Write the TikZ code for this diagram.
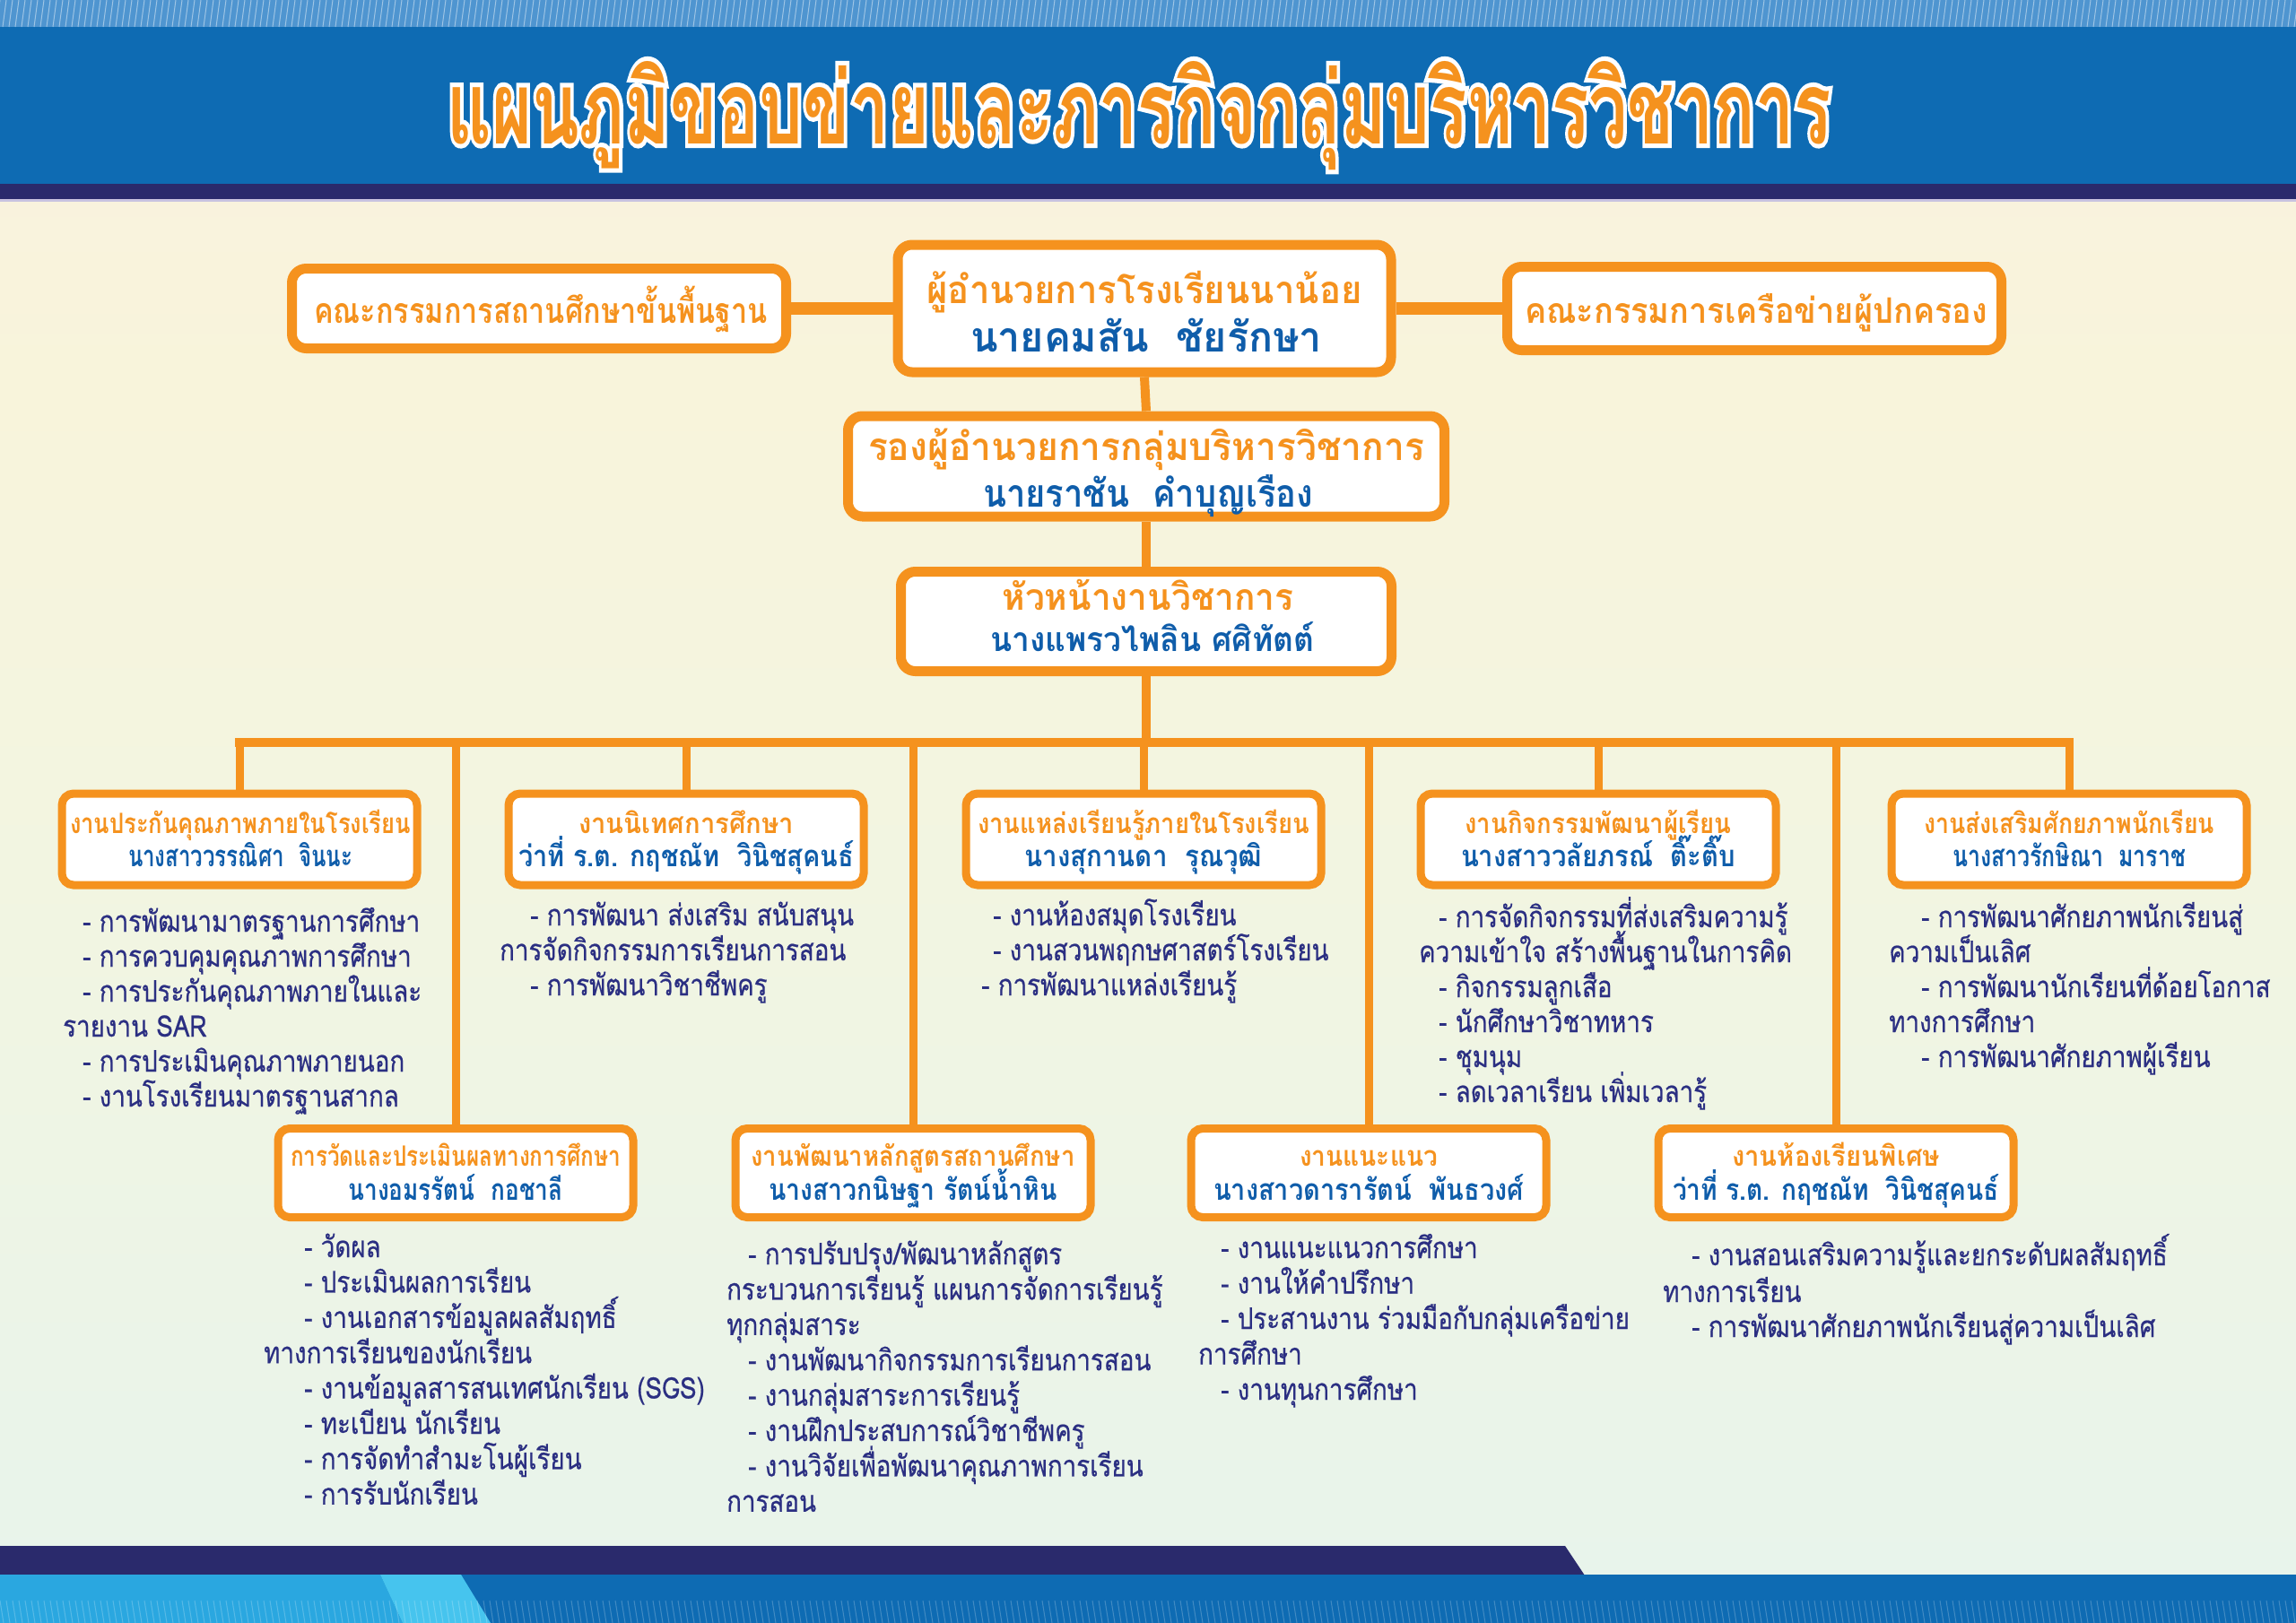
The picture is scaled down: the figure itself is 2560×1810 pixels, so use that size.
\documentclass[tikz,border=0pt]{standalone}
\usepackage{fontspec}
\usepackage{graphicx}
\newfontfamily\thaiR[Script=Thai]{Loma}
\newfontfamily\thaiL[Script=Thai,FakeBold=0.6]{Loma}
\newfontfamily\thaiO[Script=Thai,FakeBold=9]{Loma}
\definecolor{org}{HTML}{F5921E}
\definecolor{nameblue}{HTML}{0F5DAA}
\definecolor{navy}{HTML}{2B2F82}
\definecolor{band}{HTML}{0E6BB3}
\definecolor{bandL}{HTML}{4F95D0}
\definecolor{darkband}{HTML}{2A2A6C}
\definecolor{lilac}{HTML}{C9C3E0}
\definecolor{cyanA}{HTML}{2AA7E0}
\definecolor{cyanB}{HTML}{46C4EE}
\definecolor{bgA}{HTML}{FCEEE3}
\definecolor{bgB}{HTML}{FBF0E0}
\definecolor{bgC}{HTML}{F8F4DB}
\definecolor{bgD}{HTML}{F1F5E2}
\definecolor{bgE}{HTML}{E9F4EA}
\definecolor{bgF}{HTML}{E1F0F3}
\pgfdeclareverticalshading{bgsh}{100bp}{color(0bp)=(bgF); color(28bp)=(bgE); color(48bp)=(bgD); color(68bp)=(bgC); color(85bp)=(bgB); color(100bp)=(bgA)}
\def\fB{\thaiR\bfseries\fontsize{20}{24}\selectfont}
\def\fO{\thaiO\bfseries\fontsize{20}{24}\selectfont}
\def\fR{\thaiL\fontsize{20}{24}\selectfont}
\newsavebox\tbA
\newsavebox\tbB
\newlength\tlH
\newlength\tlW
% scale a text line to a given width and a given body height (height of the letter NO NU)
\newcommand\tline[4]{\sbox\tbA{#1น}\sbox\tbB{#1#4}\setlength\tlH{\ht\tbA}\setlength\tlW{\wd\tbB}\pgfmathsetmacro\tsx{#2/\tlW}\pgfmathsetmacro\tsy{#3/\tlH}\scalebox{\tsx}[\tsy]{\usebox\tbB}}
% list line: one common scale, calibrated on a reference line
\newcommand\LiT[1]{\sbox\tbA{\fR น}\sbox\tbB{\fR - การพัฒนามาตรฐานการศึกษา}\setlength\tlH{\ht\tbA}\setlength\tlW{\wd\tbB}\pgfmathsetmacro\lsx{376/\tlW}\pgfmathsetmacro\lsy{18.5/\tlH}\scalebox{\lsx}[\lsy]{\fR #1}}
\tikzset{
  obox/.style={draw=org, line width=9pt, rounded corners=13pt, fill=white, inner sep=0pt, minimum width=396pt, minimum height=102pt},
  tbox/.style={obox, line width=11pt, rounded corners=16pt},
  ttxt/.style={inner sep=0pt, anchor=base, text=org},
  ntxt/.style={inner sep=0pt, anchor=base, text=nameblue},
  lst/.style={inner sep=0pt, anchor=base west, text=navy},
  conn/.style={draw=org, line width=9pt},
}
\newcommand\BoxT[6]{\node[ttxt] (#1) at (#2,#3) {\tline{\fB}{#4}{#5}{#6}};}
\newcommand\BoxN[6]{\node[ntxt] (#1) at (#2,#3) {\tline{\fB}{#4}{#5}{#6}};}
\newcommand\LL[4]{\node[lst] (#1) at (#2,#3) {\LiT{#4}};}
\begin{document}
\begin{tikzpicture}[x=1pt,y=-1pt]
\useasboundingbox (0,0) rectangle (2560,1810);
% background
\shade[shading=bgsh] (0,222) rectangle (2560,1758);
% top band
\fill[band] (0,0) rectangle (2560,206);
\fill[bandL] (0,0) rectangle (2560,30);
\foreach \x in {0,7,...,2566} \draw[white, opacity=.45, line width=1pt] (\x,0) -- (\x-4,30);
\fill[darkband] (0,205) rectangle (2560,222);
\fill[lilac] (0,222) rectangle (2560,225);
% bottom band
\fill[darkband] (0,1724) -- (1745,1724) -- (1767,1757) -- (0,1757) -- cycle;
\fill[band] (0,1756) rectangle (2560,1810);
\fill[cyanA] (0,1756) -- (424,1756) -- (449,1810) -- (0,1810) -- cycle;
\fill[cyanB] (424,1756) -- (514,1756) -- (547,1810) -- (449,1810) -- cycle;
\foreach \x in {0,7,...,2566} \draw[white, opacity=.22, line width=1pt] (\x,1785) -- (\x+4,1810);
% title with white outline (stroked copy behind)
\def\ttl{แผนภูมิขอบข่ายและภารกิจกลุ่มบริหารวิชาการ}
\node[inner sep=0pt, anchor=base, text=white] (tw) at (1270,160) {\tline{\fO}{1543}{63}{\ttl}};
\node[inner sep=0pt, anchor=base, text=org] (title) at (1270,160) {\tline{\fB}{1543}{63}{\ttl}};
% top boxes
\node[tbox, minimum width=551pt, minimum height=89pt] (L) at (601,344) {};
\node[tbox, minimum width=550pt, minimum height=142pt] (C) at (1276,344) {};
\node[tbox, minimum width=551pt, minimum height=93pt] (R) at (1956,344) {};
\node[tbox, minimum width=665pt, minimum height=112pt] (B2) at (1278,520) {};
\node[tbox, minimum width=547pt, minimum height=111pt] (B3) at (1278,693) {};
\BoxT{Lt}{603}{360}{506}{22}{คณะกรรมการสถานศึกษาขั้นพื้นฐาน}
\BoxT{Ct}{1276}{338}{485}{24}{ผู้อำนวยการโรงเรียนนาน้อย}
\BoxN{Cn}{1278}{392}{392}{26}{นายคมสัน~ ชัยรักษา}
\BoxT{Rt}{1958}{360}{516}{22}{คณะกรรมการเครือข่ายผู้ปกครอง}
\BoxT{B2t}{1278}{513}{620}{24}{รองผู้อำนวยการกลุ่มบริหารวิชาการ}
\BoxN{B2n}{1280}{565}{368}{24}{นายราชัน~ คำบุญเรือง}
\BoxT{B3t}{1280}{680}{325}{23}{หัวหน้างานวิชาการ}
\BoxN{B3n}{1285}{726}{361}{21}{นางแพรวไพลิน ศศิทัตต์}
% second level boxes
\node[obox] (U1) at (267,936) {};
\node[obox] (U2) at (765,936) {};
\node[obox] (U3) at (1275,936) {};
\node[obox] (U4) at (1782,936) {};
\node[obox] (U5) at (2307,936) {};
\node[obox, minimum height=99pt] (D1) at (508,1308) {};
\node[obox, minimum height=99pt] (D2) at (1018,1308) {};
\node[obox, minimum height=99pt] (D3) at (1526,1308) {};
\node[obox, minimum height=99pt] (D4) at (2047,1308) {};
% connectors
\coordinate (bus) at (1278,828);
\draw[conn, line width=14pt] (L.east) -- (C.west);
\draw[conn, line width=14pt] (C.east) -- (R.west);
\draw[conn, line width=10pt] (C.south) -- (B2.north);
\draw[conn, line width=10pt] (B2.south) -- (B3.north);
\draw[conn, line width=10pt] (B3.south) -- (bus);
\draw[conn, line width=10pt, line cap=rect] (bus -| U1.north) -- (bus -| U5.north);
\foreach \b in {U1,U2,U3,U4,U5,D1,D2,D3,D4} \draw[conn] (bus -| \b.north) -- (\b.north);
% box texts, upper row
\BoxT{U1t}{268}{929}{380}{17.5}{งานประกันคุณภาพภายในโรงเรียน}
\BoxN{U1n}{268}{966}{250}{18.5}{นางสาววรรณิศา~ จินนะ}
\BoxT{U2t}{765}{929}{240}{17.5}{งานนิเทศการศึกษา}
\BoxN{U2n}{765}{966}{374}{18.5}{ว่าที่ ร.ต. กฤชณัท~ วินิชสุคนธ์}
\BoxT{U3t}{1275}{929}{370}{17.5}{งานแหล่งเรียนรู้ภายในโรงเรียน}
\BoxN{U3n}{1275}{966}{265}{18.5}{นางสุกานดา~ รุณวุฒิ}
\BoxT{U4t}{1782}{929}{297}{17.5}{งานกิจกรรมพัฒนาผู้เรียน}
\BoxN{U4n}{1782}{966}{306}{18.5}{นางสาววลัยภรณ์~ ติ๊ะติ๊บ}
\BoxT{U5t}{2307}{929}{324}{17.5}{งานส่งเสริมศักยภาพนักเรียน}
\BoxN{U5n}{2307}{966}{260}{18.5}{นางสาวรักษิณา~ มาราช}
% box texts, lower row
\BoxT{D1t}{508}{1300}{368}{17.5}{การวัดและประเมินผลทางการศึกษา}
\BoxN{D1n}{508}{1338}{239}{18.5}{นางอมรรัตน์~ กอชาลี}
\BoxT{D2t}{1018}{1300}{361}{17.5}{งานพัฒนาหลักสูตรสถานศึกษา}
\BoxN{D2n}{1018}{1338}{321}{18.5}{นางสาวกนิษฐา รัตน์น้ำหิน}
\BoxT{D3t}{1526}{1300}{154}{17.5}{งานแนะแนว}
\BoxN{D3n}{1526}{1338}{346}{18.5}{นางสาวดารารัตน์~ พันธวงศ์}
\BoxT{D4t}{2047}{1300}{232}{17.5}{งานห้องเรียนพิเศษ}
\BoxN{D4n}{2047}{1338}{364}{18.5}{ว่าที่ ร.ต. กฤชณัท~ วินิชสุคนธ์}
% lists, upper row
\LL{u1a}{92}{1039}{- การพัฒนามาตรฐานการศึกษา}
\LL{u1b}{92}{1078}{- การควบคุมคุณภาพการศึกษา}
\LL{u1c}{92}{1117}{- การประกันคุณภาพภายในและ}
\LL{u1d}{70}{1156}{รายงาน SAR}
\LL{u1e}{92}{1195}{- การประเมินคุณภาพภายนอก}
\LL{u1f}{92}{1234}{- งานโรงเรียนมาตรฐานสากล}
\LL{u2a}{591}{1032}{- การพัฒนา ส่งเสริม สนับสนุน}
\LL{u2b}{557}{1071}{การจัดกิจกรรมการเรียนการสอน}
\LL{u2c}{591}{1110}{- การพัฒนาวิชาชีพครู}
\LL{u3a}{1107}{1032}{- งานห้องสมุดโรงเรียน}
\LL{u3b}{1107}{1071}{- งานสวนพฤกษศาสตร์โรงเรียน}
\LL{u3c}{1094}{1110}{- การพัฒนาแหล่งเรียนรู้}
\LL{u4a}{1604}{1034}{- การจัดกิจกรรมที่ส่งเสริมความรู้}
\LL{u4b}{1582}{1073}{ความเข้าใจ สร้างพื้นฐานในการคิด}
\LL{u4c}{1604}{1112}{- กิจกรรมลูกเสือ}
\LL{u4d}{1604}{1151}{- นักศึกษาวิชาทหาร}
\LL{u4e}{1604}{1190}{- ชุมนุม}
\LL{u4f}{1604}{1229}{- ลดเวลาเรียน เพิ่มเวลารู้}
\LL{u5a}{2142}{1034}{- การพัฒนาศักยภาพนักเรียนสู่}
\LL{u5b}{2106}{1073}{ความเป็นเลิศ}
\LL{u5c}{2142}{1112}{- การพัฒนานักเรียนที่ด้อยโอกาส}
\LL{u5d}{2106}{1151}{ทางการศึกษา}
\LL{u5e}{2142}{1190}{- การพัฒนาศักยภาพผู้เรียน}
% lists, lower row
\LL{d1a}{339}{1402}{- วัดผล}
\LL{d1b}{339}{1441.4}{- ประเมินผลการเรียน}
\LL{d1c}{339}{1480.8}{- งานเอกสารข้อมูลผลสัมฤทธิ์}
\LL{d1d}{294}{1520.2}{ทางการเรียนของนักเรียน}
\LL{d1e}{339}{1559.6}{- งานข้อมูลสารสนเทศนักเรียน (SGS)}
\LL{d1f}{339}{1599}{- ทะเบียน นักเรียน}
\LL{d1g}{339}{1638.4}{- การจัดทำสำมะโนผู้เรียน}
\LL{d1h}{339}{1677.8}{- การรับนักเรียน}
\LL{d2a}{834}{1410}{- การปรับปรุง/พัฒนาหลักสูตร}
\LL{d2b}{810}{1449.4}{กระบวนการเรียนรู้ แผนการจัดการเรียนรู้}
\LL{d2c}{810}{1488.8}{ทุกกลุ่มสาระ}
\LL{d2d}{834}{1528.2}{- งานพัฒนากิจกรรมการเรียนการสอน}
\LL{d2e}{834}{1567.6}{- งานกลุ่มสาระการเรียนรู้}
\LL{d2f}{834}{1607}{- งานฝึกประสบการณ์วิชาชีพครู}
\LL{d2g}{834}{1646.4}{- งานวิจัยเพื่อพัฒนาคุณภาพการเรียน}
\LL{d2h}{810}{1685.8}{การสอน}
\LL{d3a}{1361}{1403}{- งานแนะแนวการศึกษา}
\LL{d3b}{1361}{1442.5}{- งานให้คำปรึกษา}
\LL{d3c}{1361}{1482}{- ประสานงาน ร่วมมือกับกลุ่มเครือข่าย}
\LL{d3d}{1336}{1521.5}{การศึกษา}
\LL{d3e}{1361}{1561}{- งานทุนการศึกษา}
\LL{d4a}{1886}{1411}{- งานสอนเสริมความรู้และยกระดับผลสัมฤทธิ์}
\LL{d4b}{1854}{1452}{ทางการเรียน}
\LL{d4c}{1886}{1491}{- การพัฒนาศักยภาพนักเรียนสู่ความเป็นเลิศ}
\end{tikzpicture}
\end{document}
